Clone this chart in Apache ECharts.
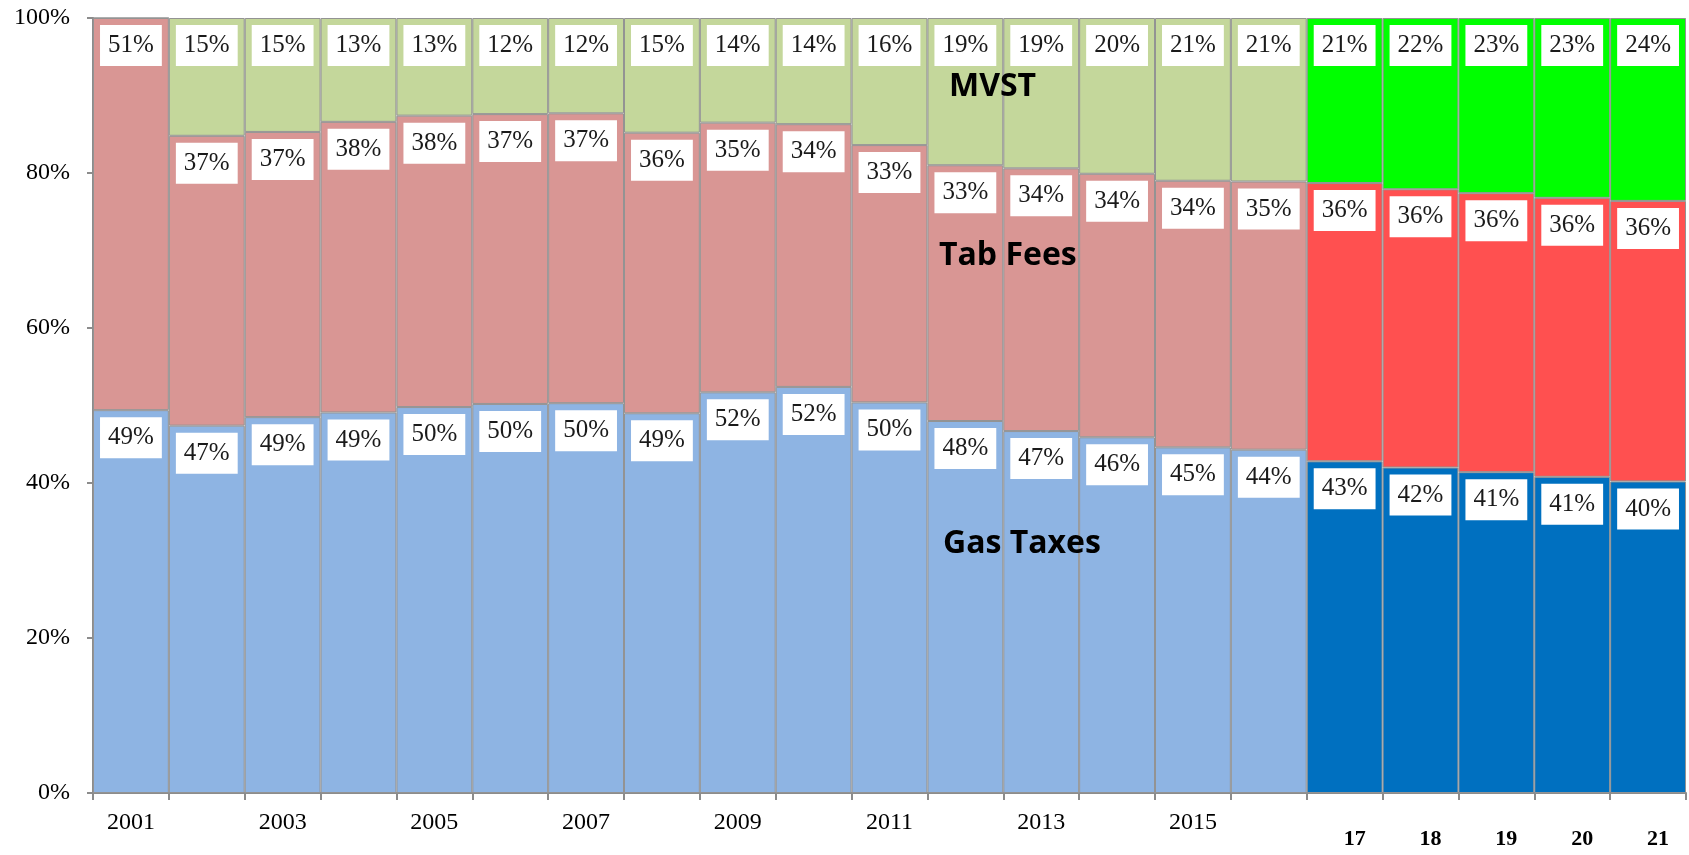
<!DOCTYPE html>
<html>
<head>
<meta charset="utf-8">
<title>Revenue shares</title>
<script src="https://cdn.jsdelivr.net/npm/echarts@6/dist/echarts.min.js"></script>
<style>
  html, body { margin: 0; padding: 0; background: #fff; }
  #main { width: 1689px; height: 855px; }
</style>
</head>
<body>
<div id="main"></div>
<script>
// categories (years; projections shown as two digits)
var years = ["2001", "2002", "2003", "2004", "2005", "2006", "2007", "2008", "2009", "2010",
  "2011", "2012", "2013", "2014", "2015", "2016", "17", "18", "19", "20", "21"];

// shares, % of total
var gasTaxes = [49.4, 47.4, 48.5, 49.1, 49.8, 50.2, 50.3, 49.0, 51.7, 52.4,
  50.4, 48.0, 46.7, 45.9, 44.6, 44.3, 42.8, 42.0, 41.4, 40.8, 40.2];
var tabFees = [50.6, 37.4, 36.8, 37.5, 37.6, 37.4, 37.4, 36.2, 34.8, 33.9,
  33.2, 33.0, 33.9, 34.0, 34.4, 34.6, 35.9, 35.9, 36.0, 36.0, 36.2];
var mvst = [0, 15.2, 14.7, 13.4, 12.6, 12.4, 12.3, 14.8, 13.5, 13.7,
  16.4, 19.0, 19.4, 20.1, 21.0, 21.1, 21.3, 22.1, 22.6, 23.2, 23.6];

var yTicks = [0, 20, 40, 60, 80, 100];

// first projected year = first two-digit category
var firstProj = years.findIndex(function (y) { return y.length < 4; });

var serifFont = '"Liberation Serif", "DejaVu Serif", serif';
var labelFont = 'bold 32px "Open Sans", sans-serif';

function buildData(vals, histColor, projColor) {
  return vals.map(function (v, i) {
    var item = { value: v, itemStyle: { color: i >= firstProj ? projColor : histColor } };
    if (!v) item.label = { show: false };
    return item;
  });
}

var chartDom = document.getElementById("main");
var myChart = echarts.init(chartDom);

var barLabel = {
  show: true,
  position: "insideTop",
  distance: 7,
  formatter: function (p) { return Math.round(p.value) + "%"; },
  backgroundColor: "#fff",
  padding: [8, 8, 8, 8],
  color: "#1a1a1a",
  fontFamily: serifFont,
  fontSize: 25,
  lineHeight: 25
};

var barStyle = { borderColor: "#939393", borderWidth: 1 };

function makeSeries(name, data) {
  return {
    name: name,
    type: "bar",
    stack: "total",
    barCategoryGap: "0%",
    data: data,
    itemStyle: barStyle,
    label: barLabel,
    silent: true
  };
}

var option = {
  animation: false,
  grid: { left: 93, right: 3, top: 18, bottom: 62 },
  xAxis: {
    type: "category",
    data: years,
    axisLine: { lineStyle: { color: "#8c8c8c", width: 2 } },
    axisTick: { show: true, length: 7, interval: 0, lineStyle: { color: "#8c8c8c", width: 2 } },
    axisLabel: {
      interval: function (i) { return i >= firstProj || i % 2 === 0; },
      margin: 18,
      color: "#000",
      fontFamily: serifFont,
      fontSize: 24,
      formatter: function (v, i) { return i >= firstProj ? "{p|" + v + "}" : v; },
      rich: {
        p: { fontFamily: serifFont, fontSize: 22, fontWeight: "bold", color: "#000", padding: [17, 0, 0, 20] }
      }
    }
  },
  yAxis: {
    type: "value",
    min: yTicks[0],
    max: yTicks[yTicks.length - 1],
    interval: yTicks[1] - yTicks[0],
    splitLine: { show: false },
    axisLine: { show: true, lineStyle: { color: "#8c8c8c", width: 2 } },
    axisTick: { show: true, length: 6, lineStyle: { color: "#8c8c8c", width: 2 } },
    axisLabel: {
      margin: 23,
      color: "#000",
      fontFamily: serifFont,
      fontSize: 24,
      formatter: "{value}%"
    }
  },
  series: [
    makeSeries("Gas Taxes", buildData(gasTaxes, "#8EB4E3", "#0070C0")),
    makeSeries("Tab Fees", buildData(tabFees, "#D99694", "#FF5050")),
    makeSeries("MVST", buildData(mvst, "#C4D79B", "#00FF00"))
  ],
  graphic: [
    { type: "text", z: 100, left: 949, top: 71, style: { text: "MVST", font: labelFont, fill: "#000" } },
    { type: "text", z: 100, left: 939, top: 240, style: { text: "Tab Fees", font: labelFont, fill: "#000" } },
    { type: "text", z: 100, left: 943, top: 528, style: { text: "Gas Taxes", font: labelFont, fill: "#000" } }
  ]
};

option && myChart.setOption(option);
</script>
</body>
</html>
